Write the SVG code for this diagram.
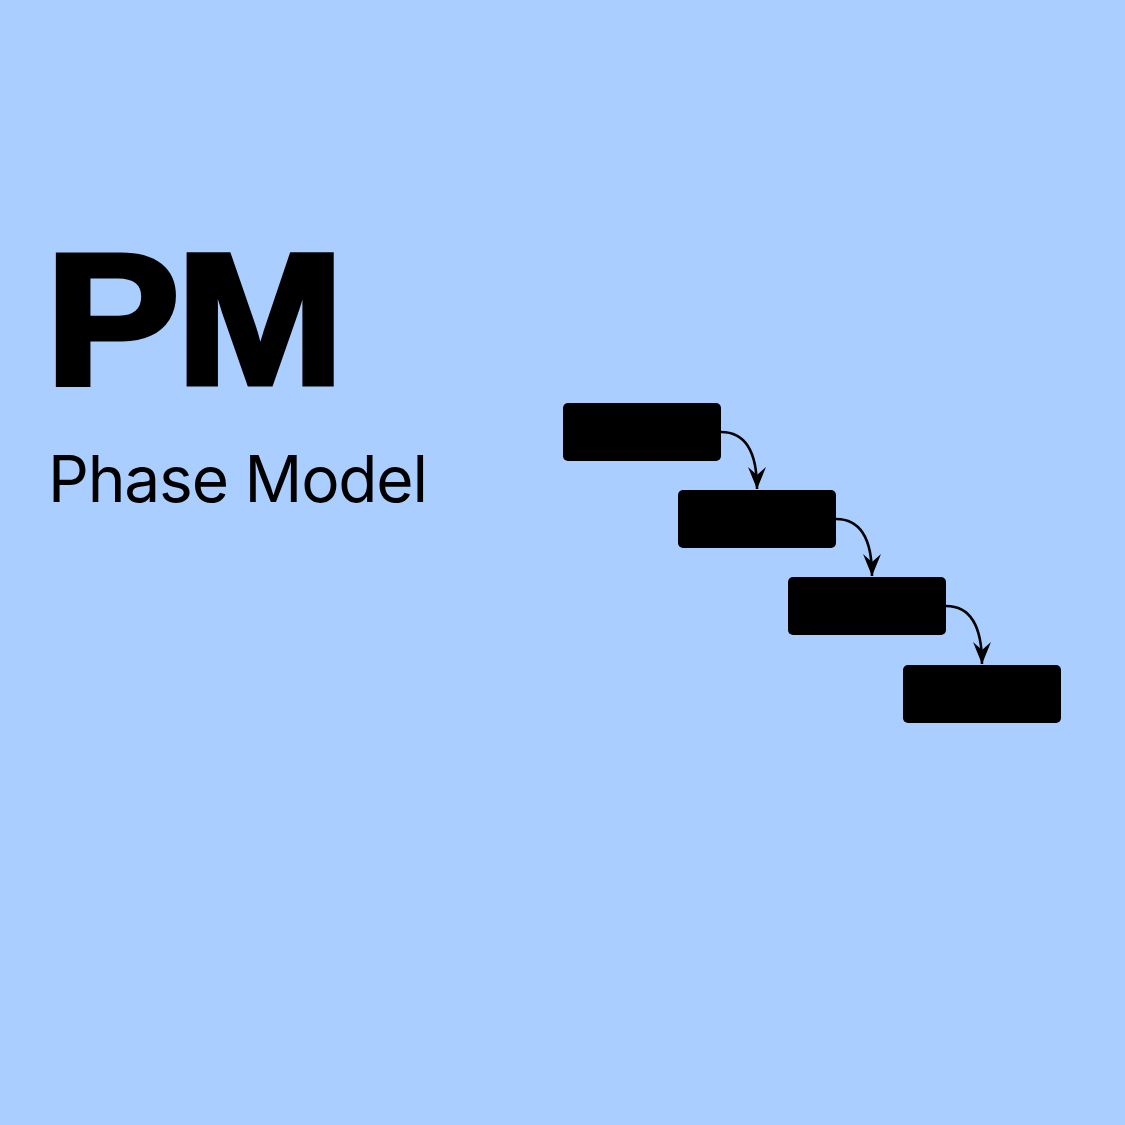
<svg xmlns="http://www.w3.org/2000/svg" width="1125" height="1125" viewBox="0 0 1125 1125">
<style>
.node{fill:#000;}
.conn{fill:none;stroke:#000;stroke-width:2.6;}
.title{font-family:"Liberation Sans",Arial,sans-serif;font-weight:700;font-size:187.5px;fill:#000;stroke:#000;stroke-width:5;stroke-linejoin:miter;letter-spacing:-4px;}
.sub{font-family:Inter,"Liberation Sans",sans-serif;font-weight:400;font-size:64px;fill:#000;letter-spacing:-1.2px;}
</style>
<defs>
<marker id="ah" viewBox="0 0 22 18" refX="22" refY="9" markerWidth="22" markerHeight="18" markerUnits="userSpaceOnUse" orient="auto">
<path d="M0,0 L22,9 L0,18 L8,9 z" fill="#000"/>
</marker>
</defs>
<rect width="1125" height="1125" fill="#AACEFF"/>
<g id="title">
<text class="title" transform="translate(45,383.5) scale(1.081,1)" x="0" y="0">PM</text>
<text class="sub" x="48" y="502">Phase Model</text>
</g>
<g id="connectors">
<path class="conn" marker-end="url(#ah)" d="M721,432 C745,432 757,452 757,489"/>
<path class="conn" marker-end="url(#ah)" d="M836,519 C860,519 872,539 872,576"/>
<path class="conn" marker-end="url(#ah)" d="M946,606 C970,606 982,626 982,664"/>
</g>
<g id="phase1"><rect class="node" x="563" y="403" width="158" height="58" rx="5"/></g>
<g id="phase2"><rect class="node" x="678" y="490" width="158" height="58" rx="5"/></g>
<g id="phase3"><rect class="node" x="788" y="577" width="158" height="58" rx="5"/></g>
<g id="phase4"><rect class="node" x="903" y="665" width="158" height="58" rx="5"/></g>
</svg>
